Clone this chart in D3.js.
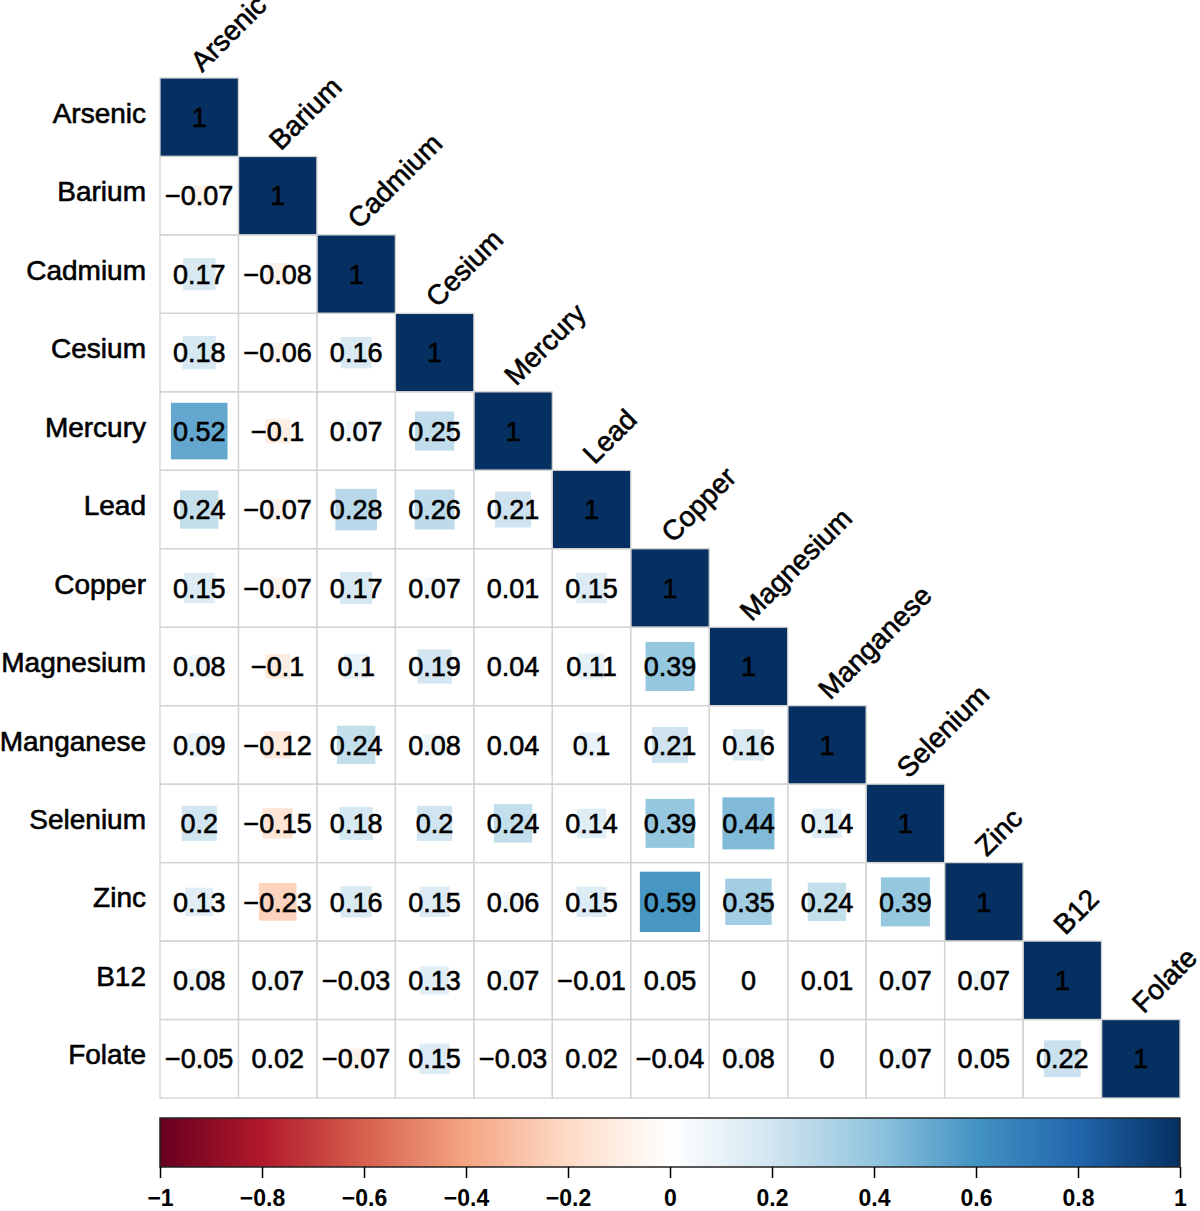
<!DOCTYPE html>
<html>
<head>
<meta charset="utf-8">
<script src="https://cdn.jsdelivr.net/npm/d3@7"></script>
<style>
  body { margin: 0; background: #fff; }
  text { font-family: "Liberation Sans", Arial, Helvetica, sans-serif; }
</style>
</head>
<body>
<svg width="1200" height="1211"></svg>
<script>
// variables, in plotting order
var names = ['Arsenic', 'Barium', 'Cadmium', 'Cesium', 'Mercury', 'Lead', 'Copper',
             'Magnesium', 'Manganese', 'Selenium', 'Zinc', 'B12', 'Folate'];

// lower triangle of the correlation matrix, one row per variable (diagonal = 1)
var rowArsenic   = [1];
var rowBarium    = [-0.07, 1];
var rowCadmium   = [0.17, -0.08, 1];
var rowCesium    = [0.18, -0.06, 0.16, 1];
var rowMercury   = [0.52, -0.1, 0.07, 0.25, 1];
var rowLead      = [0.24, -0.07, 0.28, 0.26, 0.21, 1];
var rowCopper    = [0.15, -0.07, 0.17, 0.07, 0.01, 0.15, 1];
var rowMagnesium = [0.08, -0.1, 0.1, 0.19, 0.04, 0.11, 0.39, 1];
var rowManganese = [0.09, -0.12, 0.24, 0.08, 0.04, 0.1, 0.21, 0.16, 1];
var rowSelenium  = [0.2, -0.15, 0.18, 0.2, 0.24, 0.14, 0.39, 0.44, 0.14, 1];
var rowZinc      = [0.13, -0.23, 0.16, 0.15, 0.06, 0.15, 0.59, 0.35, 0.24, 0.39, 1];
var rowB12       = [0.08, 0.07, -0.03, 0.13, 0.07, -0.01, 0.05, 0, 0.01, 0.07, 0.07, 1];
var rowFolate    = [-0.05, 0.02, -0.07, 0.15, -0.03, 0.02, -0.04, 0.08, 0, 0.07, 0.05, 0.22, 1];

var rows = [rowArsenic, rowBarium, rowCadmium, rowCesium, rowMercury, rowLead, rowCopper,
            rowMagnesium, rowManganese, rowSelenium, rowZinc, rowB12, rowFolate];

// colour bar ticks
var legendTicks = [-1, -0.8, -0.6, -0.4, -0.2, 0, 0.2, 0.4, 0.6, 0.8, 1];

// RdBu palette
var palette = ['#67001F', '#B2182B', '#D6604D', '#F4A582', '#FDDBC7', '#FFFFFF',
               '#D1E5F0', '#92C5DE', '#4393C3', '#2166AC', '#053061'];

var svg = d3.select("svg");

// build cell list from rows
var cells = [];
rows.forEach(function (r, i) {
    r.forEach(function (v, j) {
        cells.push({row: names[i], col: names[j], value: v, diag: i === j});
    });
});

var x = d3.scaleBand().domain(names).range([160, 1180]);
var y = d3.scaleBand().domain(names).range([78, 1098]);
var bw = x.bandwidth();

var color = d3.scaleLinear()
    .domain(d3.range(palette.length).map(function (i) { return -1 + 2 * i / (palette.length - 1); }))
    .range(palette)
    .interpolate(d3.interpolateRgb);

var fmt = function (v) {
    var s = String(+v.toFixed(2));
    return s.replace('-', '\u2212');
};

// squares sized by sqrt(|r|)
function side(d) { return bw * Math.sqrt(Math.abs(d.value)); }

svg.append("g")
    .selectAll("rect")
    .data(cells)
    .enter().append("rect")
    .attr("x", function (d) { return x(d.col) + bw / 2 - side(d) / 2; })
    .attr("y", function (d) { return y(d.row) + bw / 2 - side(d) / 2; })
    .attr("width", side)
    .attr("height", side)
    .attr("fill", function (d) { return color(d.value); });

// grid lines on top
svg.append("g")
    .selectAll("rect")
    .data(cells)
    .enter().append("rect")
    .attr("x", function (d) { return x(d.col); })
    .attr("y", function (d) { return y(d.row); })
    .attr("width", bw)
    .attr("height", bw)
    .attr("fill", "none")
    .attr("stroke", "#d3d3d3")
    .attr("stroke-width", 1.3);

// numbers
svg.append("g")
    .selectAll("text")
    .data(cells)
    .enter().append("text")
    .attr("x", function (d) { return x(d.col) + bw / 2; })
    .attr("y", function (d) { return y(d.row) + bw / 2; })
    .attr("dy", "0.36em")
    .attr("text-anchor", "middle")
    .attr("font-size", 27)
    .attr("fill", "#000")
    .attr("stroke", "#000")
    .attr("stroke-width", 0.6)
    .text(function (d) { return fmt(d.value); });

// row labels
svg.append("g")
    .selectAll("text")
    .data(names)
    .enter().append("text")
    .attr("x", 146)
    .attr("y", function (d) { return y(d) + bw / 2; })
    .attr("dy", "0.2em")
    .attr("text-anchor", "end")
    .attr("font-size", 28)
    .attr("fill", "#000")
    .attr("stroke", "#000")
    .attr("stroke-width", 0.6)
    .text(function (d) { return d; });

// column labels along the diagonal
svg.append("g")
    .selectAll("text")
    .data(names)
    .enter().append("text")
    .attr("transform", function (d) {
        return "translate(" + (x(d) + bw / 2 + 3) + "," + (y(d) - 5) + ") rotate(-45)";
    })
    .attr("text-anchor", "start")
    .attr("font-size", 28)
    .attr("fill", "#000")
    .attr("stroke", "#000")
    .attr("stroke-width", 0.6)
    .text(function (d) { return d; });

// colour bar
var lx = d3.scaleLinear().domain([-1, 1]).range([160, 1180]);
var grad = svg.append("defs").append("linearGradient")
    .attr("id", "cbar")
    .attr("x1", "0%").attr("x2", "100%").attr("y1", "0%").attr("y2", "0%");
grad.selectAll("stop")
    .data(palette)
    .enter().append("stop")
    .attr("offset", function (d, i) { return (100 * i / (palette.length - 1)) + "%"; })
    .attr("stop-color", function (d) { return d; });

svg.append("rect")
    .attr("x", lx(-1))
    .attr("y", 1118)
    .attr("width", lx(1) - lx(-1))
    .attr("height", 49)
    .attr("fill", "url(#cbar)")
    .attr("stroke", "#222")
    .attr("stroke-width", 1.5);

var axis = svg.append("g")
    .attr("transform", "translate(0,1167)")
    .call(d3.axisBottom(lx)
        .tickValues(legendTicks)
        .tickSize(11)
        .tickPadding(12)
        .tickFormat(fmt));
axis.select(".domain").remove();
axis.selectAll(".tick line").attr("stroke", "#000").attr("stroke-width", 1.5);
axis.selectAll(".tick text")
    .attr("font-size", 23)
    .attr("font-weight", "bold")
    .attr("font-family", "'Liberation Sans', Arial, sans-serif")
    .attr("fill", "#000");
</script>
</body>
</html>
